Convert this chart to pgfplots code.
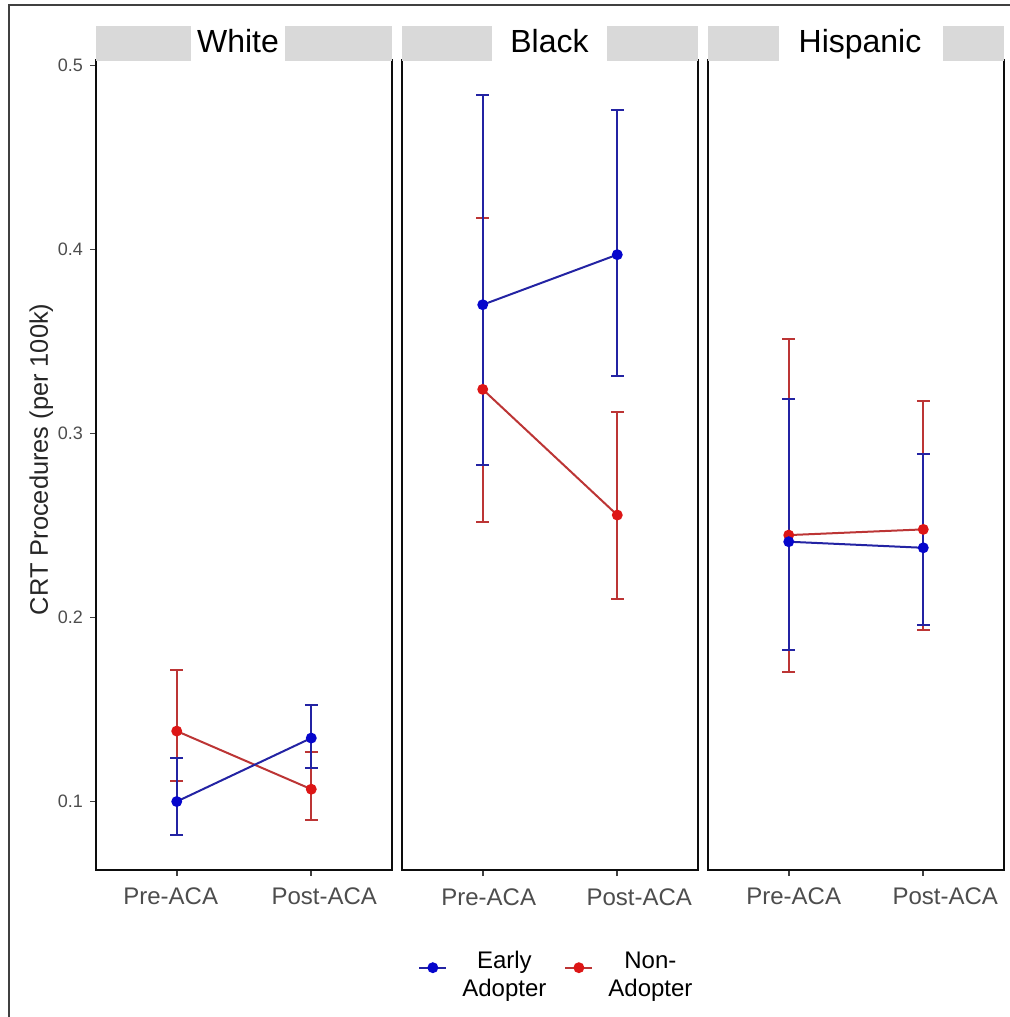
\documentclass[border=0pt]{standalone}
\usepackage{fontspec}
\setmainfont{Liberation Sans}
\usepackage{pgfplots}
\pgfplotsset{compat=1.18}
\definecolor{eablue}{HTML}{2323A3}
\definecolor{eapt}{HTML}{0606CC}
\definecolor{nared}{HTML}{BC3535}
\definecolor{napt}{HTML}{DD1616}
\definecolor{stripgrey}{HTML}{D9D9D9}
\definecolor{tickgrey}{HTML}{4D4D4D}

% tick label moved sideways by #1 (pt), as in the reference
\newcommand\lab[2]{\makebox[0pt][c]{\hspace*{#1}#2}}

\pgfplotsset{
  facet/.style={
    scale only axis, width=148pt, height=405pt, anchor=south west,
    xmin=0.4, xmax=2.6, ymin=0.0628, ymax=0.503,
    xtick={1,2}, xtick pos=bottom,
    ytick={0.1,0.2,0.3,0.4,0.5},
    tick align=outside, major tick length=3pt,
    tick style={black!75, line width=0.8pt},
    axis line style={line width=1pt, black!95},
    xticklabel style={font=\fontsize{12}{13}\selectfont, text=tickgrey, anchor=base, yshift=-14.5pt},
    yticklabel style={font=\fontsize{9}{11}\selectfont, text=tickgrey},
    /pgf/number format/assume math mode=true,
    /pgf/number format/fixed,
  },
  ea/.style={eablue, line width=1pt, mark=*, mark size=2.2pt,
    mark options={solid, fill=eapt, draw=eapt},
    error bars/y dir=both, error bars/y explicit,
    error bars/error bar style={eablue, line width=1pt},
    error bars/error mark options={rotate=90, mark size=3.2pt, eablue, line width=1pt}},
  na/.style={nared, line width=1pt, mark=*, mark size=2.2pt,
    mark options={solid, fill=napt, draw=napt},
    error bars/y dir=both, error bars/y explicit,
    error bars/error bar style={nared, line width=1pt},
    error bars/error mark options={rotate=90, mark size=3.2pt, nared, line width=1pt}},
}

\begin{document}
\begin{tikzpicture}
\useasboundingbox (0,0) rectangle (505pt,508.5pt);

% White
\begin{axis}[facet, at={(48pt,73.5pt)}, ytick pos=left,
  xticklabels={\lab{-6pt}{Pre-ACA},\lab{13pt}{Post-ACA}},
  ylabel={CRT Procedures (per 100k)},
  ylabel style={at={(axis description cs:-0.185,0.507)}, anchor=center,
    font=\fontsize{12.7}{14}\selectfont, text=black!85}]
\addplot[na] coordinates {(1,0.1383) += (0,0.0330) -= (0,0.0269) (2,0.1067) += (0,0.0202) -= (0,0.0167)};
\addplot[ea] coordinates {(1,0.1000) += (0,0.0234) -= (0,0.0181) (2,0.1345) += (0,0.0177) -= (0,0.0160)};
\end{axis}

% Black
\begin{axis}[facet, at={(201pt,73.5pt)}, ytick=\empty,
  xticklabels={\lab{6pt}{Pre-ACA},\lab{22pt}{Post-ACA}},
  legend style={at={(axis description cs:0.525,-0.1206)}, anchor=center,
    draw=none, fill=none, legend columns=2,
    font=\fontsize{12}{14}\selectfont,
    /tikz/every odd column/.append style={column sep=5.5pt},
    /tikz/every even column/.append style={column sep=7pt}},
  legend image code/.code={\draw[mark repeat=2,mark phase=2,#1] plot coordinates {(0pt,0pt) (6.75pt,0pt) (13.5pt,0pt)};}]
\addlegendimage{eablue, line width=1pt, mark=*, mark size=2.2pt, mark options={fill=eapt, draw=eapt}}
\addlegendentry{\begin{tabular}{@{}c@{}}Early\\Adopter\end{tabular}}
\addlegendimage{nared, line width=1pt, mark=*, mark size=2.2pt, mark options={fill=napt, draw=napt}}
\addlegendentry{\begin{tabular}{@{}c@{}}Non-\\Adopter\end{tabular}}
\addplot[na, forget plot] coordinates {(1,0.3240) += (0,0.0930) -= (0,0.0720) (2,0.2557) += (0,0.0558) -= (0,0.0456)};
\addplot[ea, forget plot] coordinates {(1,0.3700) += (0,0.1140) -= (0,0.0870) (2,0.3972) += (0,0.0785) -= (0,0.0657)};
\end{axis}

% Hispanic
\begin{axis}[facet, at={(354pt,73.5pt)}, ytick=\empty,
  xticklabels={\lab{5pt}{Pre-ACA},\lab{22pt}{Post-ACA}}]
\addplot[na] coordinates {(1,0.2448) += (0,0.1068) -= (0,0.0746) (2,0.2479) += (0,0.0698) -= (0,0.0548)};
\addplot[ea] coordinates {(1,0.2412) += (0,0.0774) -= (0,0.0586) (2,0.2379) += (0,0.0508) -= (0,0.0417)};
\end{axis}

% facet strips
\fill[stripgrey] (48pt,478pt) rectangle (196pt,495.5pt);
\fill[stripgrey] (201pt,478pt) rectangle (349pt,495.5pt);
\fill[stripgrey] (354pt,478pt) rectangle (502pt,495.5pt);
\fill[white] (95.5pt,478pt) rectangle (142.5pt,496pt);
\fill[white] (246pt,478pt) rectangle (303.5pt,496pt);
\fill[white] (389.5pt,478pt) rectangle (471.5pt,496pt);
\node[anchor=base, inner sep=0pt, font=\fontsize{16}{18}\selectfont] at (119pt,482pt) {White};
\node[anchor=base, inner sep=0pt, font=\fontsize{16}{18}\selectfont] at (274.75pt,482pt) {Black};
\node[anchor=base, inner sep=0pt, font=\fontsize{16}{18}\selectfont] at (430pt,482pt) {Hispanic};

% outer frame
\draw[line width=1pt, black!75] (4.5pt,0pt) -- (4.5pt,506pt) -- (505pt,506pt);
\end{tikzpicture}
\end{document}
